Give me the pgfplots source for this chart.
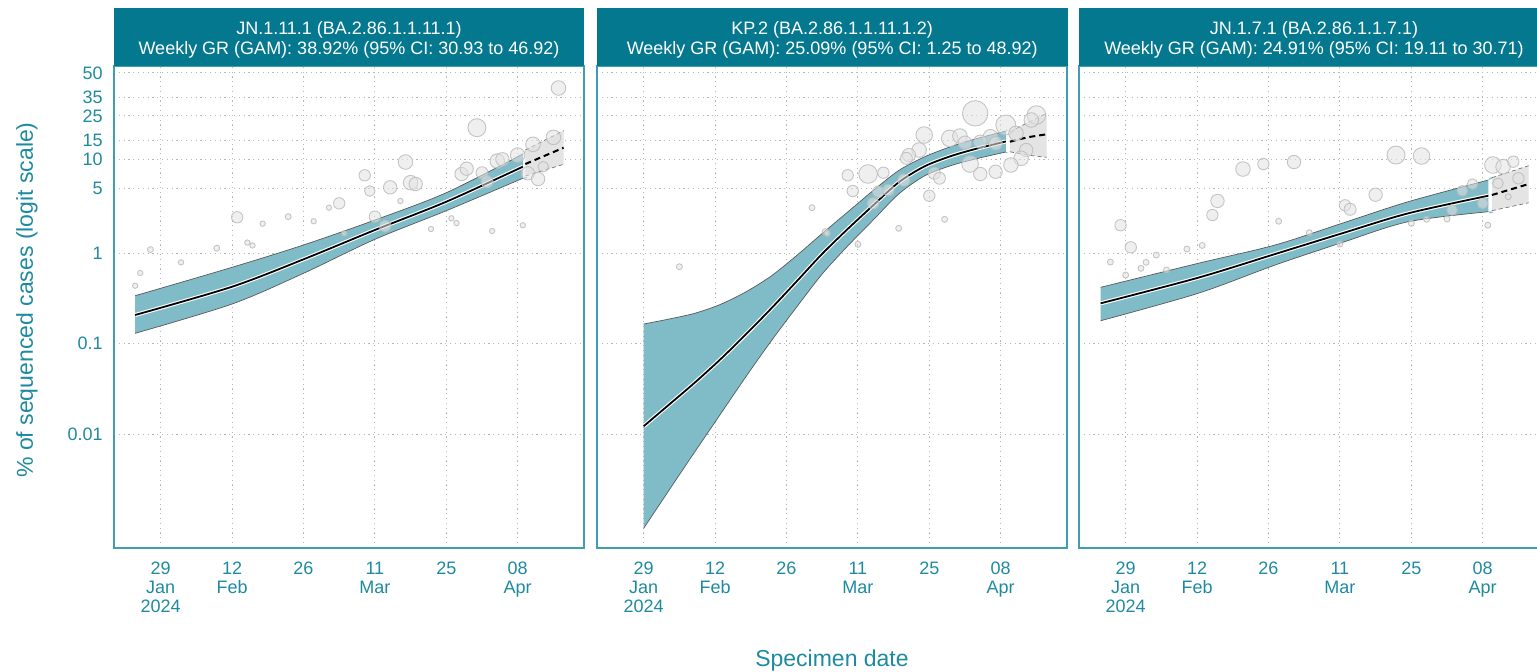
\documentclass[border=0pt]{standalone}
\usepackage{pgfplots}
\pgfplotsset{compat=1.18}
\usepackage{pgfplotstable}
\usepackage{fontspec}
\setmainfont{Liberation Sans}
\definecolor{hdr}{RGB}{4,120,143}
\definecolor{tk}{RGB}{30,138,160}
\definecolor{bx}{RGB}{64,158,178}
\definecolor{rib}{RGB}{128,188,200}
\definecolor{bubf}{RGB}{226,226,226}
\definecolor{bubd}{RGB}{188,188,188}
\definecolor{proj}{RGB}{228,228,228}

% bubbles: d = days from 29 Jan 2024, p = % of sequenced cases, s = marker radius (pt)
\pgfplotstableread{
d p s
62 19.78 4.5
48 9.32 3.65
40 6.83 2.85
41 4.68 2.65
45 5.12 3.35
49 5.72 3.65
50 5.54 3.35
47 3.67 1.35
35 3.46 2.85
33 3.11 1.35
15 2.45 2.85
25 2.49 1.5
20 2.09 1.35
30 2.22 1.35
42 2.49 2.85
44 1.97 2.85
36 1.64 1.35
53 1.83 1.35
57 2.39 1.35
58 2.12 1.35
65 1.74 1.35
71 2.01 1.35
17 1.30 1.35
18 1.21 1.35
11 1.13 1.5
-2 1.09 1.5
4 0.790 1.35
-4 0.603 1.35
-5 0.437 1.35
59 7.04 3.35
60 7.98 3.35
63 7.26 3
64 5.86 3
66 9.54 3.65
67 9.93 3.35
70 10.94 3.65
73 13.91 3.65
77 16.18 3.65
72 7.16 3.35
74 6.25 3.35
75 8.36 2.65
78 40.43 3.65
}\bubA

\pgfplotstableread{
d p s
65 26.25 6.35
71 20.90 5
77 25.42 4.65
76 23.08 3.65
55 16.99 4.15
60 15.83 4.15
62 16.64 3.65
63 14.40 3.35
68 16.39 3.65
66 14.72 3.35
69 14.21 3.35
73 17.61 3.65
75 12.25 3.35
74 10.15 3.65
72 8.70 3.65
64 8.90 4.15
66 7.04 3.35
69 7.43 3.35
54 12.25 3.65
52 10.94 3.35
51.5 10.15 3
51 6.10 3
57 7.16 3
58 6.36 3
56 4.17 2.85
44 7.04 4.65
40 6.83 2.85
47 7.26 2.85
41 4.68 2.85
46 4.60 2.85
48 4.79 2.85
45 3.46 2.85
33 3.11 1.5
59 2.33 1.5
50 1.861 1.5
35.6 1.71 1.5
36 1.64 1.5
42 1.245 1.5
7 0.707 1.5
}\bubB

\pgfplotstableread{
d p s
53 10.94 4.5
58 10.70 4.15
23 7.92 3.65
27 8.90 2.85
33 9.32 3.35
72 8.70 4.15
74 8.36 3.65
76 9.39 2.85
77 6.36 2.85
73 5.64 2.65
68 5.54 2.65
66 4.71 2.65
70 3.46 2.65
75 4.07 1.5
71 2.01 1.5
49 4.276 3.35
43 3.297 2.85
44 2.986 3
18 3.67 3.35
17 2.593 2.85
-1 2.01 2.85
1 1.155 2.85
30 2.22 1.5
64 2.935 2.65
63 2.347 1.5
59 2.33 1.5
56 2.109 1.5
36 1.667 1.5
42 1.254 1.5
15 1.21 1.5
12 1.106 1.5
6 0.951 1.5
4 0.790 1.5
3 0.679 1.5
-3 0.796 1.5
0 0.573 1.5
8 0.651 1.5
}\bubC

\pgfplotsset{
  panel/.style={
    width=235pt, height=241pt, scale only axis, anchor=south west,
    xmin=-9.15, xmax=83, ymin=-5.2625, ymax=0.0753,
    y filter/.expression={ln(y/(100-y))/ln(10)},
    axis line style={draw=bx, line width=0.7pt},
    xtick={0,14,28,42,56,70},
    xticklabels={{29\\Jan\\2024},{12\\Feb},26,{11\\Mar},25,{08\\Apr}},
    xticklabel style={align=center, font=\fontsize{9}{9.6}\selectfont, text=tk, inner sep=0pt, yshift=-6.8pt},
    ytick={-4.0000,-3.0004,-1.9956,-1.2788,-0.9542,-0.7533,-0.4771,-0.2688,0},
    yticklabel style={font=\fontsize{9}{10}\selectfont, text=tk, inner sep=0pt, anchor=east, xshift=-5.5pt},
    major tick length=0pt,
    grid=major,
    major grid style={black!28, line width=0.45pt, dash pattern=on 0.6pt off 1.8pt},
  },
  ribfill/.style={fill=rib, draw=none, smooth, forget plot},
  ribedge/.style={draw=black!65, line width=0.35pt, smooth, forget plot},
  projfill/.style={fill=proj, draw=none, forget plot},
  projedge/.style={draw=black!55, line width=0.35pt, smooth, dash pattern=on 2pt off 1.5pt, forget plot},
  projmid/.style={draw=black, line width=1pt, smooth, dash pattern=on 3pt off 2pt, forget plot},
  halo/.style={draw=white, line width=2pt, smooth, forget plot},
  fit/.style={draw=black, line width=0.9pt, smooth, forget plot},
  bubbles/.style={scatter, only marks, mark=*,
    scatter/use mapped color={draw=bubd, fill=bubf},
    visualization depends on={\thisrow{s}\as\rad},
    scatter/@pre marker code/.append style={/tikz/mark size=\rad},
    mark options={line width=0.45pt, fill opacity=0.55, draw opacity=0.85}, forget plot},
}

\begin{document}
\begin{tikzpicture}
\useasboundingbox (0,0) rectangle (768.5pt,-335.5pt);

% ---------- Panel 1 ----------
\begin{axis}[panel, at={(57pt,-274pt)}, yticklabels={0.01,0.1,1,5,10,15,25,35,50}]
\addplot[ribfill] coordinates {(-5,0.3389) (14,0.6966) (28,1.224) (42,2.289) (56,4.489) (71,11.20) (71,11.20)
  (71,6.36) (71,6.36) (56,2.885) (42,1.412) (28,0.5985) (14,0.2745) (-5,0.1302)} -- cycle;
\addplot[ribedge] coordinates {(-5,0.3389) (14,0.6966) (28,1.224) (42,2.289) (56,4.489) (71,11.20)};
\addplot[ribedge] coordinates {(-5,0.1302) (14,0.2745) (28,0.5985) (42,1.412) (56,2.885) (71,6.36)};
\addplot[projfill] coordinates {(71.5,12.25) (79,18.60) (79,8.84) (71.5,6.71)} -- cycle;
\addplot[bubbles] table[x=d,y=p] {\bubA};
\addplot[projedge] coordinates {(71.5,12.25) (79,18.60)};
\addplot[projedge] coordinates {(71.5,6.71) (79,8.84)};
\addplot[halo] coordinates {(-5,0.2076) (14,0.4259) (28,0.8527) (42,1.784) (56,3.602) (71,8.36)};
\addplot[fit] coordinates {(-5,0.2076) (14,0.4259) (28,0.8527) (42,1.784) (56,3.602) (71,8.36)};
\addplot[projmid] coordinates {(71.5,8.90) (79,12.90)};
\end{axis}

% ---------- Panel 2 ----------
\begin{axis}[panel, at={(298.5pt,-274pt)}, yticklabels={}]
\addplot[ribfill] coordinates {(0,0.1649) (5,0.1874) (10,0.2166) (15,0.2710) (20,0.3723) (25,0.559) (30,0.939) (35,1.634) (40,2.793) (45,4.736) (50,7.646) (55,10.46) (60,13.10) (65,15.60) (71,18.48) (71,18.48)
  (71,11.72) (71,11.72) (65,9.99) (60,8.50) (55,6.71) (50,4.350) (45,2.289) (40,1.193) (35,0.588) (30,0.2543) (25,0.1070) (20,0.04276) (15,0.01643) (10,0.00632) (5,0.002398) (0,0.000903)} -- cycle;
\addplot[ribedge] coordinates {(0,0.1649) (5,0.1874) (10,0.2166) (15,0.2710) (20,0.3723) (25,0.559) (30,0.939) (35,1.634) (40,2.793) (45,4.736) (50,7.646) (55,10.46) (60,13.10) (65,15.60) (71,18.48)};
\addplot[ribedge] coordinates {(0,0.000903) (5,0.002398) (10,0.00632) (15,0.01643) (20,0.04276) (25,0.1070) (30,0.2543) (35,0.588) (40,1.193) (45,2.289) (50,4.350) (55,6.71) (60,8.50) (65,9.99) (71,11.72)};
\addplot[projfill] coordinates {(71.8,18.21) (75.3,21.89) (79,26.25) (79,10.39) (75.3,10.94) (71.8,11.79)} -- cycle;
\addplot[bubbles] table[x=d,y=p] {\bubB};
\addplot[projedge] coordinates {(71.8,18.21) (75.3,21.89) (79,26.25)};
\addplot[projedge] coordinates {(71.8,11.79) (75.3,10.94) (79,10.39)};
\addplot[halo] coordinates {(0,0.0122) (5,0.02121) (10,0.0370) (15,0.0668) (20,0.1262) (25,0.2447) (30,0.4885) (35,0.980) (40,1.83) (45,3.297) (50,5.775) (55,8.40) (60,10.58) (65,12.53) (71,14.79)};
\addplot[fit] coordinates {(0,0.0122) (5,0.02121) (10,0.0370) (15,0.0668) (20,0.1262) (25,0.2447) (30,0.4885) (35,0.980) (40,1.83) (45,3.297) (50,5.775) (55,8.40) (60,10.58) (65,12.53) (71,14.79)};
\addplot[projmid] coordinates {(71.8,14.72) (75.3,16.18) (79,17.25)};
\end{axis}

% ---------- Panel 3 ----------
\begin{axis}[panel, at={(539.5pt,-274pt)}, yticklabels={}]
\addplot[ribfill] coordinates {(-4.9,0.4196) (14.2,0.7706) (29.3,1.224) (42.4,2.109) (55.4,3.602) (71.1,6.10) (71.1,6.10)
  (71.1,2.815) (71.1,2.815) (55.4,2.195) (42.4,1.30) (29.3,0.7382) (14.2,0.3602) (-4.9,0.1794)} -- cycle;
\addplot[ribedge] coordinates {(-4.9,0.4196) (14.2,0.7706) (29.3,1.224) (42.4,2.109) (55.4,3.602) (71.1,6.10)};
\addplot[ribedge] coordinates {(-4.9,0.1794) (14.2,0.3602) (29.3,0.7382) (42.4,1.30) (55.4,2.195) (71.1,2.815)};
\addplot[projfill] coordinates {(71.8,6.45) (79,8.56) (79,3.51) (71.8,2.885)} -- cycle;
\addplot[bubbles] table[x=d,y=p] {\bubC};
\addplot[projedge] coordinates {(71.8,6.45) (79,8.56)};
\addplot[projedge] coordinates {(71.8,2.885) (79,3.51)};
\addplot[halo] coordinates {(-4.9,0.2794) (14.2,0.5351) (29.3,0.9751) (42.4,1.64) (55.4,2.705) (71.1,4.17)};
\addplot[fit] coordinates {(-4.9,0.2794) (14.2,0.5351) (29.3,0.9751) (42.4,1.64) (55.4,2.705) (71.1,4.17)};
\addplot[projmid] coordinates {(71.8,4.245) (79,5.54)};
\end{axis}

% ---------- strip headers ----------
\fill[hdr] (57pt,-4pt) rectangle (292pt,-33pt);
\fill[hdr] (298.5pt,-4pt) rectangle (533.75pt,-33pt);
\fill[hdr] (539.5pt,-4pt) rectangle (774.5pt,-33pt);
\begin{scope}[every node/.style={text=white, font=\fontsize{9}{10}\selectfont, inner sep=0pt, anchor=base}]
\node at (174.5pt,-17.15pt) {JN.1.11.1 (BA.2.86.1.1.11.1)};
\node at (174.5pt,-27pt) {Weekly GR (GAM): 38.92\% (95\% CI: 30.93 to 46.92)};
\node at (416.1pt,-17.15pt) {KP.2 (BA.2.86.1.1.11.1.2)};
\node at (416.1pt,-27pt) {Weekly GR (GAM): 25.09\% (95\% CI: 1.25 to 48.92)};
\node at (657pt,-17.15pt) {JN.1.7.1 (BA.2.86.1.1.7.1)};
\node at (657pt,-27pt) {Weekly GR (GAM): 24.91\% (95\% CI: 19.11 to 30.71)};
\end{scope}

% ---------- axis titles ----------
\node[text=tk, font=\fontsize{11.5}{13}\selectfont, rotate=90, inner sep=0pt] at (13.5pt,-150pt) {\% of sequenced cases (logit scale)};
\node[text=tk, font=\fontsize{11.5}{13}\selectfont, inner sep=0pt, anchor=base] at (416pt,-333pt) {Specimen date};
\end{tikzpicture}
\end{document}
